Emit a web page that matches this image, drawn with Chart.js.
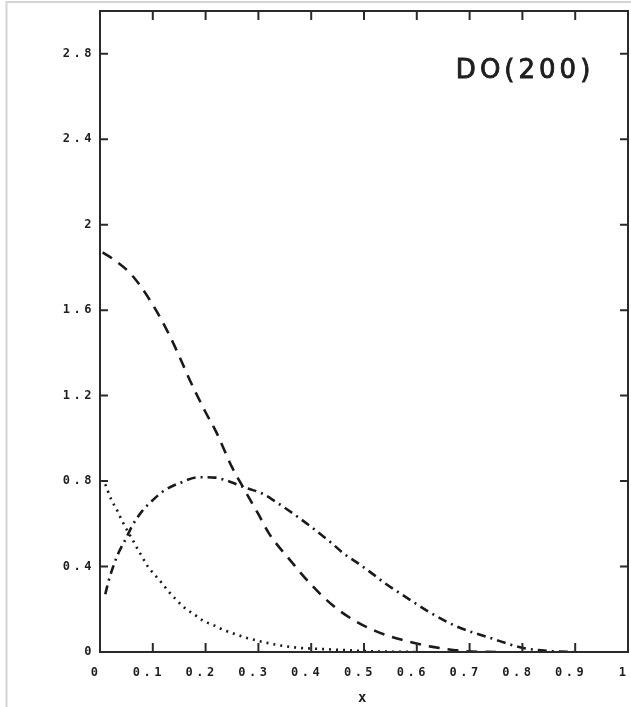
<!DOCTYPE html>
<html>
<head>
<meta charset="utf-8">
<title>DO(200)</title>
<script src="https://cdn.jsdelivr.net/npm/chart.js@4/dist/chart.umd.min.js"></script>
<style>
  html, body { margin: 0; padding: 0; background: #fff; overflow: hidden; }
  #wrap { position: relative; width: 631px; height: 707px; }
</style>
</head>
<body>
<div id="wrap"><canvas id="c" width="631" height="707"></canvas></div>
<script>
// ---- data ----
const panelLabel = 'DO(200)';
const xAxisTitle = 'x';

const xTicks = [0, 0.1, 0.2, 0.3, 0.4, 0.5, 0.6, 0.7, 0.8, 0.9, 1];
const xTickLabels = ['0', '0.1', '0.2', '0.3', '0.4', '0.5', '0.6', '0.7', '0.8', '0.9', '1'];
const yTicks = [0, 0.4, 0.8, 1.2, 1.6, 2, 2.4, 2.8];
const yTickLabels = ['0', '0.4', '0.8', '1.2', '1.6', '2', '2.4', '2.8'];

// long-dashed curve
const dashedX = [0.005, 0.03, 0.06, 0.1, 0.13, 0.15, 0.17, 0.2, 0.22, 0.25, 0.27, 0.3, 0.32, 0.36, 0.4, 0.44, 0.48, 0.52, 0.57, 0.63, 0.69, 0.75];
const dashedY = [1.87, 1.83, 1.765, 1.625, 1.49, 1.385, 1.273, 1.122, 1.03, 0.865, 0.775, 0.645, 0.555, 0.43, 0.315, 0.22, 0.15, 0.1, 0.058, 0.024, 0.004, 0];

// dotted curve
const dottedX = [0.01, 0.022, 0.032, 0.041, 0.051, 0.06, 0.07, 0.08, 0.09, 0.104, 0.117, 0.13, 0.145, 0.16, 0.18, 0.196, 0.215, 0.234, 0.256, 0.278, 0.3, 0.32, 0.34, 0.36, 0.38, 0.43, 0.47, 0.52, 0.6];
const dottedY = [0.785, 0.71, 0.665, 0.618, 0.571, 0.533, 0.487, 0.445, 0.402, 0.36, 0.323, 0.283, 0.243, 0.207, 0.173, 0.145, 0.126, 0.103, 0.084, 0.066, 0.052, 0.041, 0.031, 0.024, 0.019, 0.013, 0.008, 0.003, 0];

// dash-dotted curve
const dashDotX = [0.01, 0.016, 0.032, 0.051, 0.06, 0.079, 0.1, 0.123, 0.152, 0.186, 0.218, 0.246, 0.271, 0.306, 0.328, 0.388, 0.439, 0.461, 0.489, 0.515, 0.54, 0.568, 0.593, 0.622, 0.678, 0.739, 0.801, 0.86, 0.9];
const dashDotY = [0.27, 0.33, 0.446, 0.54, 0.586, 0.657, 0.711, 0.758, 0.792, 0.818, 0.816, 0.797, 0.773, 0.743, 0.711, 0.608, 0.509, 0.462, 0.415, 0.368, 0.321, 0.275, 0.235, 0.189, 0.117, 0.066, 0.019, 0.003, 0];

// ---- helpers ----
const toPoints = (xs, ys) => xs.map((x, i) => ({ x, y: ys[i] }));
const ink = '#1a1a1a';
const tickFont = { family: '"DejaVu Sans Mono", monospace', size: 12, weight: 'bold' };

function curve(xs, ys, dash) {
  return {
    data: toPoints(xs, ys),
    borderColor: ink,
    borderWidth: 2.6,
    borderDash: dash,
    borderCapStyle: 'butt',
    pointRadius: 0,
    fill: false,
    cubicInterpolationMode: 'monotone'
  };
}

// Boxed frame with inward ticks on all four sides, the panel label and the page border
const frameAndLabels = {
  id: 'frameAndLabels',
  beforeDraw(chart) {
    const ctx = chart.ctx;
    ctx.save();
    ctx.strokeStyle = '#d4d4d4';
    ctx.lineWidth = 2;
    ctx.beginPath();
    ctx.moveTo(6.5, chart.height);
    ctx.lineTo(6.5, 2);
    ctx.lineTo(chart.width, 2);
    ctx.stroke();
    ctx.restore();
    ctx.letterSpacing = '3.5px';
  },
  afterDatasetsDraw(chart) {
    const { ctx, chartArea: a, scales: { x, y } } = chart;
    ctx.save();
    ctx.strokeStyle = '#2a2a2a';
    ctx.lineWidth = 2;
    ctx.strokeRect(a.left, a.top, a.right - a.left, a.bottom - a.top);
    ctx.beginPath();
    xTicks.forEach(v => {
      const p = x.getPixelForValue(v);
      ctx.moveTo(p, a.bottom); ctx.lineTo(p, a.bottom - 9);
      ctx.moveTo(p, a.top); ctx.lineTo(p, a.top + 9);
    });
    yTicks.forEach(v => {
      const p = y.getPixelForValue(v);
      ctx.moveTo(a.left, p); ctx.lineTo(a.left + 8, p);
      ctx.moveTo(a.right, p); ctx.lineTo(a.right - 8, p);
    });
    ctx.stroke();

    ctx.letterSpacing = '4px';
    ctx.font = '26px "DejaVu Sans", sans-serif';
    ctx.fillStyle = '#1e1e1e';
    ctx.strokeStyle = '#1e1e1e';
    ctx.lineWidth = 0.9;
    ctx.textAlign = 'left';
    ctx.textBaseline = 'middle';
    const lx = x.getPixelForValue(0.674), ly = y.getPixelForValue(2.72);
    ctx.fillText(panelLabel, lx, ly);
    ctx.strokeText(panelLabel, lx, ly);
    ctx.restore();
  }
};

new Chart(document.getElementById('c'), {
  type: 'line',
  data: {
    datasets: [
      curve(dashedX, dashedY, [11, 8]),
      curve(dottedX, dottedY, [2, 5]),
      curve(dashDotX, dashDotY, [9, 5, 2, 5])
    ]
  },
  options: {
    responsive: false,
    animation: false,
    devicePixelRatio: 1,
    layout: { padding: { top: 11, right: 3, left: 0, bottom: 0 } },
    plugins: { legend: { display: false }, tooltip: { enabled: false } },
    scales: {
      x: {
        type: 'linear',
        min: 0,
        max: 1,
        afterBuildTicks: s => { s.ticks = xTicks.map(v => ({ value: v })); },
        afterFit: s => { s.height = 55; s.paddingLeft = 0; s.paddingRight = 0; },
        grid: { display: false, drawTicks: false },
        border: { display: false },
        ticks: {
          autoSkip: false,
          maxRotation: 0,
          minRotation: 0,
          padding: 14,
          labelOffset: -4,
          color: '#1e1e1e',
          font: tickFont,
          callback: (v, i) => xTickLabels[i]
        },
        title: {
          display: true,
          text: xAxisTitle,
          color: '#1e1e1e',
          font: { family: '"DejaVu Sans Mono", monospace', size: 14, weight: 'bold' },
          padding: { top: 0, bottom: 0 }
        }
      },
      y: {
        type: 'linear',
        min: 0,
        max: 3,
        afterBuildTicks: s => { s.ticks = yTicks.map(v => ({ value: v })); },
        afterFit: s => { s.width = 100; s.paddingTop = 0; s.paddingBottom = 0; },
        grid: { display: false, drawTicks: false },
        border: { display: false },
        ticks: {
          autoSkip: false,
          padding: 5,
          color: '#1e1e1e',
          font: tickFont,
          callback: (v, i) => yTickLabels[i]
        }
      }
    }
  },
  plugins: [frameAndLabels]
});
</script>
</body>
</html>
